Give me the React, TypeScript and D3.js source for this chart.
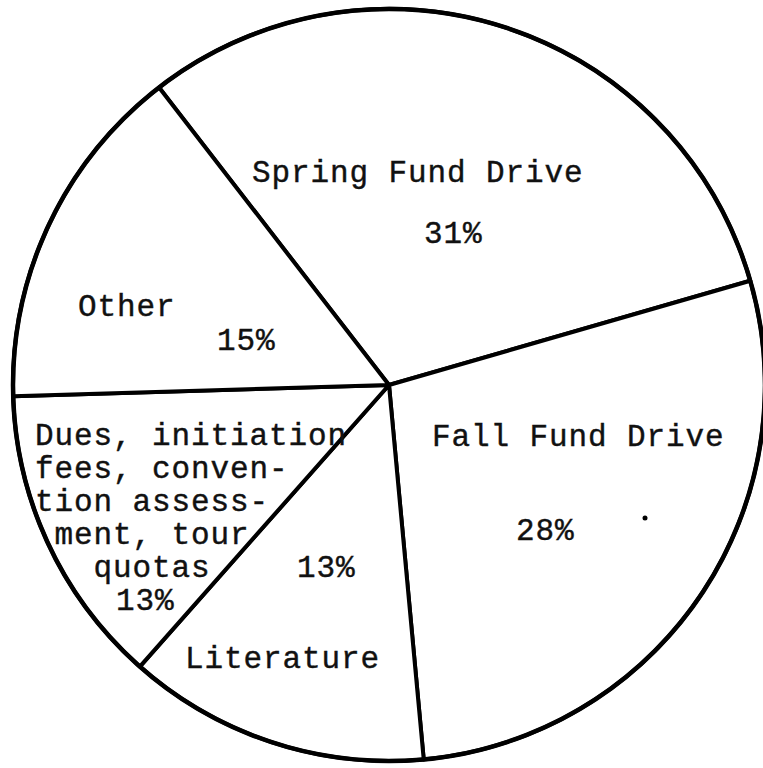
import React from "react";
import * as d3 from "d3";

// ---- data ----
const categories = [
  "Spring Fund Drive",
  "Fall Fund Drive",
  "Literature",
  "Dues, initiation fees, convention assessment, tour quotas",
  "Other",
];
const values = [31, 28, 13, 13, 15];
const percentLabels = ["31%", "28%", "13%", "13%", "15%"];
const nameLines = [
  ["Spring Fund Drive"],
  ["Fall Fund Drive"],
  ["Literature"],
  ["Dues, initiation", "fees, conven-", "tion assess-", " ment, tour", "   quotas"],
  ["Other"],
];

// ---- layout (positions of the typed labels) ----
const W = 763;
const H = 768;
const CX = 389;
const CY = 385;
const R = 376;
const START = (-37.7 * Math.PI) / 180;
const FONT = "'Liberation Mono', 'Courier New', monospace";
const FS = 31;
const LETTER = 0.9;
const LINE_H = 33;
// [x, firstBaseline] for the name block and [x, baseline] for the percent
const nameAt: [number, number][] = [
  [252, 182],
  [432, 446],
  [185, 668],
  [35, 445],
  [78, 316],
];
const pctAt: [number, number][] = [
  [424, 243],
  [516, 540],
  [297, 577],
  [116, 610],
  [217, 350],
];

export default function App() {
  const pie = d3
    .pie<number>()
    .sort(null)
    .value((d) => d)
    .startAngle(START)
    .endAngle(START + 2 * Math.PI);
  const arcs = pie(values);
  const arc = d3.arc<d3.PieArcDatum<number>>().innerRadius(0).outerRadius(R);

  const textStyle: React.CSSProperties = {
    fontFamily: FONT,
    fontSize: FS,
    letterSpacing: LETTER,
    fill: "#111",
    stroke: "#111",
    strokeWidth: 0.4,
  };

  return (
    <svg
      width={W}
      height={H}
      style={{ position: "absolute", left: 0, top: 0, background: "#fff" }}
    >
      <g transform={`translate(${CX},${CY})`}>
        {arcs.map((a, i) => (
          <path
            key={categories[i]}
            d={arc(a) || ""}
            fill="#fff"
            stroke="#000"
            strokeWidth={4}
            strokeLinejoin="round"
          />
        ))}
        <circle r={R} fill="none" stroke="#000" strokeWidth={4.5} />
      </g>
      {nameLines.map((lines, i) => (
        <text
          key={"n" + i}
          x={nameAt[i][0]}
          y={nameAt[i][1]}
          style={{ ...textStyle, whiteSpace: "pre" }}
          xmlSpace="preserve"
        >
          {lines.map((ln, j) => (
            <tspan key={j} x={nameAt[i][0]} y={nameAt[i][1] + j * LINE_H}>
              {ln}
            </tspan>
          ))}
        </text>
      ))}
      {percentLabels.map((p, i) => (
        <text key={"p" + i} x={pctAt[i][0]} y={pctAt[i][1]} style={textStyle}>
          {p}
        </text>
      ))}
      <circle cx={645} cy={518} r={2.5} fill="#000" />
    </svg>
  );
}
